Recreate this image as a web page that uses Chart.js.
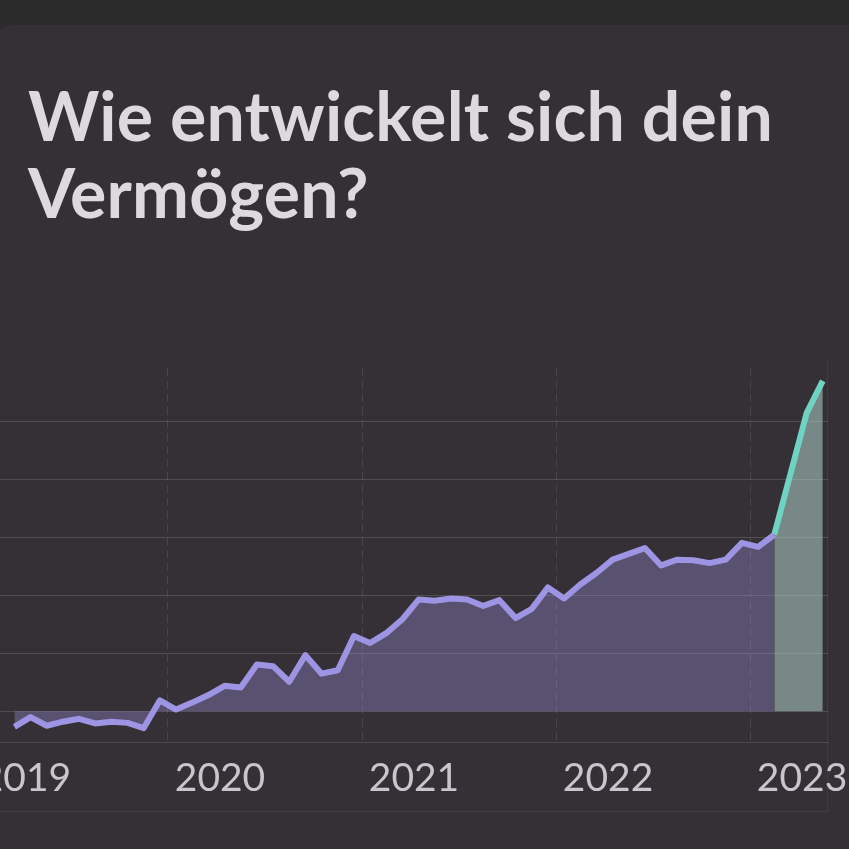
<!DOCTYPE html>
<html>
<head>
<meta charset="utf-8">
<script src="https://cdn.jsdelivr.net/npm/chart.js@4/dist/chart.umd.min.js"></script>
<style>
  html, body { margin: 0; padding: 0; width: 849px; height: 849px; overflow: hidden; background: #2b2b2b; }
  .card { position: absolute; left: -8px; top: 25px; width: 870px; height: 840px; background: #353035; border-top-left-radius: 22px; }
  h1 { position: absolute; left: 28px; top: 76px; margin: 0; font: 700 68px/77px Lato, sans-serif; letter-spacing: 0.2px; color: #dcdadf; }
  .box { position: absolute; left: -10px; top: 360px; width: 837px; height: 451px; border-right: 1px solid rgba(255,255,255,0.06); border-bottom: 1px solid rgba(255,255,255,0.06); }
  .wrap { position: absolute; left: -100px; top: 340px; width: 949px; height: 475px; }
</style>
</head>
<body>
<div class="card"></div>
<h1>Wie entwickelt sich dein<br>Vermögen?</h1>
<div class="box"></div>
<div class="wrap"><canvas id="wealthChart"></canvas></div>
<script>
// monthly history (mid-month points)
const months = ["2019-03","2019-04","2019-05","2019-06","2019-07","2019-08","2019-09","2019-10","2019-11","2019-12",
  "2020-01","2020-02","2020-03","2020-04","2020-05","2020-06","2020-07","2020-08","2020-09","2020-10","2020-11","2020-12",
  "2021-01","2021-02","2021-03","2021-04","2021-05","2021-06","2021-07","2021-08","2021-09","2021-10","2021-11","2021-12",
  "2022-01","2022-02","2022-03","2022-04","2022-05","2022-06","2022-07","2022-08","2022-09","2022-10","2022-11","2022-12",
  "2023-01","2023-02"];
const wealth = [-270,-100,-250,-180,-130,-210,-180,-200,-290,190,
  30,150,280,440,410,810,780,510,970,650,710,1300,
  1180,1350,1590,1930,1910,1950,1930,1820,1920,1610,1770,2140,
  1950,2190,2390,2620,2720,2820,2520,2620,2610,2560,2620,2910,
  2840,3050];

// projection, starts at the last real month
const forecastMonths = ["2023-02","2023-03","2023-04","2023-05"];
const forecast = [3050, 4100, 5150, 5710];

const years = [2019, 2020, 2021, 2022, 2023];
const gridValues = [0, 1000, 2000, 3000, 4000, 5000];

function toYear(m) {
  const [y, mo] = m.split("-").map(Number);
  return y + (mo - 0.5) / 12;
}

new Chart(document.getElementById("wealthChart"), {
  type: 'line',
  data: {
    datasets: [{
        data: months.map((m, i) => ({ x: toYear(m), y: wealth[i] })),
        borderColor: "#9e94e4",
        backgroundColor: "rgba(160,150,232,0.33)",
        borderWidth: 6,
        borderJoinStyle: 'round',
        pointRadius: 0,
        tension: 0,
        fill: 'origin'
      }, {
        data: forecastMonths.map((m, i) => ({ x: toYear(m), y: forecast[i] })),
        borderColor: "#6fd3c3",
        backgroundColor: "rgba(175,210,200,0.55)",
        borderWidth: 6,
        borderJoinStyle: 'round',
        pointRadius: 0,
        tension: 0,
        fill: 'origin'
      }
    ]
  },
  options: {
    responsive: true,
    maintainAspectRatio: false,
    animation: false,
    layout: { padding: { top: 28, right: 21, bottom: 0, left: 0 } },
    plugins: { legend: { display: false }, tooltip: { enabled: false } },
    scales: {
      x: {
        type: 'linear',
        min: 2018.6186,
        max: 2023.402,
        afterBuildTicks: s => { s.ticks = years.map(v => ({ value: v })); },
        grid: { color: "rgba(255,255,255,0.10)", drawTicks: false },
        border: { display: true, color: "rgba(255,255,255,0.12)", dash: [8, 5] },
        ticks: {
          color: "#c9c5cc",
          font: { family: "Lato", size: 39 },
          padding: 13,
          labelOffset: 52,
          maxRotation: 0,
          callback: v => String(v)
        }
      },
      y: {
        min: -534,
        max: 5931,
        afterBuildTicks: s => { s.ticks = gridValues.map(v => ({ value: v })); },
        grid: { color: "rgba(255,255,255,0.14)", drawTicks: false },
        border: { display: false },
        ticks: { display: false }
      }
    }
  }
});
</script>
</body>
</html>
